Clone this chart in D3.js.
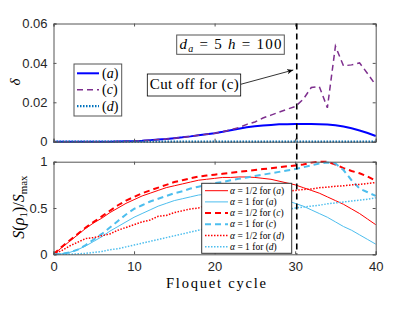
<!DOCTYPE html>
<html>
<head>
<meta charset="utf-8">
<script src="https://cdnjs.cloudflare.com/ajax/libs/d3/7.8.5/d3.min.js"></script>
<style>
  body { margin: 0; background: #fff; }
  .tick text { font-family: "Liberation Sans", Arial, sans-serif; font-size: 13px; fill: #262626; }
  .serif { font-family: "Liberation Serif", "DejaVu Serif", serif; }
</style>
</head>
<body>
<svg class="chartSVG" width="415" height="312"></svg>
<script>
const cycles = d3.range(0, 41);

// top panel: delta
const deltaA = [0, 0, 0, 0, 0, 0, 0, 0, 0.0001, 0.0002, 0.0003, 0.0005, 0.0008, 0.0011, 0.0014, 0.0018,
  0.0022, 0.0027, 0.0033, 0.0038, 0.0043, 0.0050, 0.0058, 0.0066, 0.0073, 0.0078, 0.0082, 0.0085,
  0.0088, 0.0089, 0.0090, 0.0090, 0.0090, 0.0089, 0.0087, 0.0083, 0.0077, 0.0068, 0.0057, 0.0044, 0.0029];
const deltaC = [0, 0, 0, 0, 0, 0, 0, 0, 0.0001, 0.0002, 0.0003, 0.0005, 0.0008, 0.0011, 0.0014, 0.0018,
  0.0022, 0.0027, 0.0033, 0.0038, 0.0043, 0.0050, 0.0060, 0.0072, 0.0088, 0.0100, 0.0120, 0.0135,
  0.0150, 0.0165, 0.0178, 0.0215, 0.0275, 0.0280, 0.0172, 0.0485, 0.0385, 0.0390, 0.0400, 0.0345, 0.0288];
const deltaD = cycles.map(() => 0);

// bottom panel: S(rho1)/Smax
const sA05 = [0, 0.07, 0.14, 0.21, 0.28, 0.34, 0.39, 0.45, 0.5, 0.55, 0.59, 0.63, 0.66, 0.69, 0.72, 0.74,
  0.76, 0.78, 0.8, 0.81, 0.82, 0.83, 0.83, 0.835, 0.835, 0.83, 0.82, 0.81, 0.79, 0.77, 0.75, 0.72,
  0.69, 0.66, 0.62, 0.58, 0.54, 0.49, 0.44, 0.38, 0.32];
const sA1 = [0, 0.005, 0.02, 0.05, 0.09, 0.14, 0.19, 0.25, 0.3, 0.35, 0.40, 0.44, 0.48, 0.52, 0.55, 0.58,
  0.6, 0.62, 0.64, 0.65, 0.66, 0.67, 0.67, 0.67, 0.66, 0.65, 0.64, 0.62, 0.6, 0.58, 0.55, 0.52,
  0.48, 0.44, 0.40, 0.35, 0.30, 0.26, 0.21, 0.16, 0.11];
const sC05 = [0, 0.08, 0.15, 0.22, 0.29, 0.35, 0.41, 0.47, 0.53, 0.58, 0.62, 0.66, 0.69, 0.72, 0.75, 0.78,
  0.8, 0.82, 0.84, 0.85, 0.86, 0.87, 0.88, 0.89, 0.9, 0.91, 0.92, 0.93, 0.94, 0.95, 0.96, 0.97,
  0.99, 1.0, 1.0, 0.97, 0.93, 0.9, 0.875, 0.84, 0.795];
const sC1 = [0, 0.005, 0.02, 0.05, 0.1, 0.16, 0.22, 0.29, 0.36, 0.43, 0.49, 0.53, 0.57, 0.6, 0.63, 0.66,
  0.68, 0.71, 0.73, 0.75, 0.77, 0.78, 0.8, 0.815, 0.83, 0.845, 0.86, 0.875, 0.89, 0.905, 0.92, 0.94,
  0.96, 0.98, 0.99, 0.98, 0.91, 0.8, 0.71, 0.67, 0.63];
const sD05 = [0, 0.04, 0.09, 0.13, 0.17, 0.18, 0.2, 0.22, 0.26, 0.29, 0.32, 0.35, 0.37, 0.41, 0.42, 0.45,
  0.47, 0.49, 0.5, 0.53, 0.54, 0.56, 0.58, 0.6, 0.61, 0.63, 0.64, 0.66, 0.67, 0.68, 0.69, 0.7,
  0.705, 0.72, 0.725, 0.735, 0.74, 0.75, 0.755, 0.765, 0.775];
const sD1 = [0, 0, 0, 0.005, 0.01, 0.02, 0.03, 0.05, 0.06, 0.08, 0.1, 0.12, 0.14, 0.16, 0.18, 0.2,
  0.22, 0.24, 0.26, 0.28, 0.3, 0.32, 0.34, 0.36, 0.38, 0.4, 0.42, 0.44, 0.46, 0.48, 0.5, 0.51,
  0.52, 0.53, 0.545, 0.555, 0.565, 0.575, 0.585, 0.595, 0.61];

const cutOff = 30.2;
const xTicks = [0, 10, 20, 30, 40];
const topYTicks = [0, 0.02, 0.04, 0.06];
const botYTicks = [0, 0.5, 1];

const topSeries = [
  {label: 'a', values: deltaA, color: '#0000ff', width: 2, dash: null},
  {label: 'c', values: deltaC, color: '#7e2f8e', width: 1.5, dash: '6,4'},
  {label: 'd', values: deltaD, color: '#0072bd', width: 2.2, dash: '1.5,1.5'}
];
const lightBlue = '#4dbeee';
const botSeries = [
  {alpha: '1/2', label: 'a', values: sA05, color: '#ff0000', width: 1, dash: null},
  {alpha: '1', label: 'a', values: sA1, color: lightBlue, width: 1, dash: null},
  {alpha: '1/2', label: 'c', values: sC05, color: '#ff0000', width: 2, dash: '6,4'},
  {alpha: '1', label: 'c', values: sC1, color: lightBlue, width: 2, dash: '6,4'},
  {alpha: '1/2', label: 'd', values: sD05, color: '#ff0000', width: 1.5, dash: '1.5,1.5'},
  {alpha: '1', label: 'd', values: sD1, color: lightBlue, width: 1.5, dash: '1.5,1.5'}
];

const svg = d3.select('svg.chartSVG');
const left = 53.5, right = 375.7;
const axColor = '#555';

const x = d3.scaleLinear().domain([0, 40]).range([left, right]);
const yTop = d3.scaleLinear().domain([0, 0.06]).range([141.7, 23.5]);
const yBot = d3.scaleLinear().domain([0, 1]).range([254.3, 161.7]);

function drawAxes(y, yTicks, showX){
  const g = svg.append('g');
  const [y0, y1] = y.range();
  const xa = d3.axisBottom(x).tickValues(xTicks).tickSize(-3).tickPadding(7)
    .tickFormat(showX ? d3.format('d') : () => '');
  g.append('g').attr('transform', `translate(0,${y0})`).call(xa);
  g.append('g').attr('transform', `translate(0,${y1})`)
    .call(d3.axisTop(x).tickValues(xTicks).tickSize(-3).tickFormat(() => ''));
  g.append('g').attr('transform', `translate(${left},0)`)
    .call(d3.axisLeft(y).tickValues(yTicks).tickSize(-3).tickPadding(6).tickFormat(d => d3.format('')(d)));
  g.append('g').attr('transform', `translate(${right},0)`)
    .call(d3.axisRight(y).tickValues(yTicks).tickSize(-3).tickFormat(() => ''));
  g.selectAll('.domain').attr('stroke', axColor).attr('stroke-width', 1);
  g.selectAll('.tick line').attr('stroke', axColor);
  return g;
}

function drawLines(y, series){
  const line = d3.line().x((d, i) => x(cycles[i])).y(d => y(d));
  svg.append('g').selectAll('path').data(series).enter().append('path')
    .attr('d', d => line(d.values))
    .attr('fill', 'none')
    .attr('stroke', d => d.color)
    .attr('stroke-width', d => d.width)
    .attr('stroke-dasharray', d => d.dash);
}

drawLines(yTop, topSeries);
drawAxes(yTop, topYTicks, false);
drawLines(yBot, botSeries);
drawAxes(yBot, botYTicks, true);

// cut-off line
svg.append('line')
  .attr('x1', x(cutOff)).attr('x2', x(cutOff))
  .attr('y1', yTop(0.06)).attr('y2', yBot(0))
  .attr('stroke', '#000').attr('stroke-width', 1.6).attr('stroke-dasharray', '6,4');

// axis labels
svg.append('text').attr('class', 'serif')
  .attr('transform', 'translate(20,82) rotate(-90)')
  .attr('text-anchor', 'middle').style('font-size', '15px').style('font-style', 'italic')
  .text('δ');

const sLab = svg.append('text').attr('class', 'serif')
  .attr('transform', 'translate(24,207) rotate(-90)')
  .attr('text-anchor', 'middle').style('font-size', '16px');
sLab.append('tspan').style('font-style', 'italic').text('S');
sLab.append('tspan').text('(');
sLab.append('tspan').style('font-style', 'italic').text('ρ');
sLab.append('tspan').attr('dy', 3).style('font-size', '11px').text('1');
sLab.append('tspan').attr('dy', -3).text(')/');
sLab.append('tspan').style('font-style', 'italic').text('S');
sLab.append('tspan').attr('dy', 3).style('font-size', '11px').text('max');

svg.append('text').attr('class', 'serif')
  .attr('x', 216).attr('y', 288).attr('text-anchor', 'middle')
  .attr('textLength', 100).attr('lengthAdjust', 'spacing')
  .style('font-size', '14.5px').text('Floquet cycle');

// top legend
const tLeg = svg.append('g');
tLeg.append('rect').attr('x', 74).attr('y', 64).attr('width', 47.7).attr('height', 52)
  .attr('fill', '#fff').attr('stroke', axColor);
topSeries.forEach((s, i) => {
  const yy = 73.3 + i * 16.4;
  tLeg.append('line').attr('x1', 77).attr('x2', 99).attr('y1', yy).attr('y2', yy)
    .attr('stroke', s.color).attr('stroke-width', s.width).attr('stroke-dasharray', s.dash);
  const t = tLeg.append('text').attr('class', 'serif').attr('x', 102).attr('y', yy + 4.5)
    .style('font-size', '14px');
  t.append('tspan').text('(');
  t.append('tspan').style('font-style', 'italic').text(s.label);
  t.append('tspan').text(')');
});

// parameter box
svg.append('rect').attr('x', 176.7).attr('y', 35).attr('width', 107.6).attr('height', 19.3)
  .attr('fill', '#fff').attr('stroke', axColor);
const pTxt = svg.append('text').attr('class', 'serif').attr('x', 179.5).attr('y', 48.5)
  .style('font-size', '15px').attr('textLength', 102).attr('lengthAdjust', 'spacing');
pTxt.append('tspan').style('font-style', 'italic').text('d');
pTxt.append('tspan').attr('dy', 3).style('font-size', '10px').style('font-style', 'italic').text('a');
pTxt.append('tspan').attr('dy', -3).text(' = 5 ');
pTxt.append('tspan').style('font-style', 'italic').text('h');
pTxt.append('tspan').text(' = 100');

// cut-off annotation
svg.append('defs').append('marker').attr('id', 'arrowHead')
  .attr('viewBox', '0 0 10 10').attr('refX', 10).attr('refY', 5)
  .attr('markerWidth', 8).attr('markerHeight', 8).attr('orient', 'auto')
  .append('path').attr('d', 'M0,1 L10,5 L0,9 L3,5 Z').attr('fill', '#000');
svg.append('line').attr('x1', 240.7).attr('y1', 84.3).attr('x2', 293.3).attr('y2', 70)
  .attr('stroke', '#000').attr('stroke-width', 0.8).attr('marker-end', 'url(#arrowHead)');
svg.append('rect').attr('x', 147.3).attr('y', 74).attr('width', 93.4).attr('height', 22)
  .attr('fill', '#fff').attr('stroke', '#000').attr('stroke-width', 0.8);
svg.append('text').attr('class', 'serif').attr('x', 149.8).attr('y', 88.5)
  .style('font-size', '15px').attr('textLength', 89).attr('lengthAdjust', 'spacing')
  .text('Cut off for (c)');

// bottom legend
const bLeg = svg.append('g');
bLeg.append('rect').attr('x', 201.7).attr('y', 183.3).attr('width', 90).attr('height', 70)
  .attr('fill', '#fff').attr('stroke', '#333');
botSeries.forEach((s, i) => {
  const yy = 190.7 + i * 11.2;
  bLeg.append('line').attr('x1', 205).attr('x2', 228).attr('y1', yy).attr('y2', yy)
    .attr('stroke', s.color).attr('stroke-width', s.width).attr('stroke-dasharray', s.dash);
  const t = bLeg.append('text').attr('class', 'serif').attr('x', 230).attr('y', yy + 3)
    .style('font-size', '9.5px');
  t.append('tspan').style('font-style', 'italic').text('α');
  t.append('tspan').text(` = ${s.alpha} for (`);
  t.append('tspan').style('font-style', 'italic').text(s.label);
  t.append('tspan').text(')');
});
</script>
</body>
</html>
